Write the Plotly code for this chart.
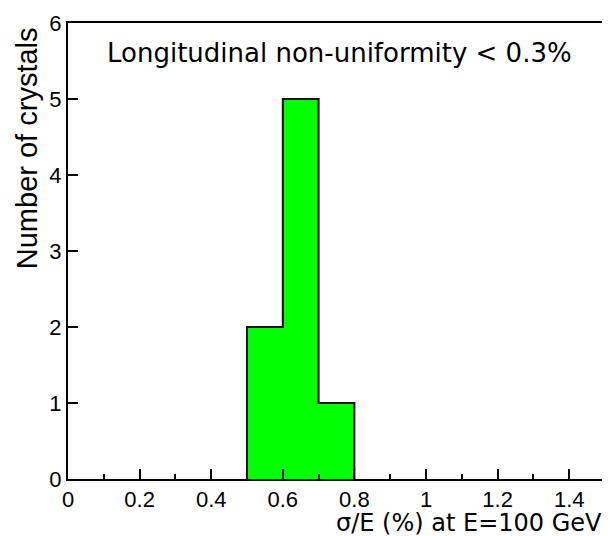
"""
Histogram of energy resolution for crystals, ROOT-like style.
"""

import plotly.graph_objects as go

# histogram data
bin_edges = [0.5, 0.6, 0.7, 0.8]
counts = [2, 5, 1]

title_text = 'Longitudinal non-uniformity < 0.3%'
x_title = 'σ/E (%) at E=100 GeV'
y_title = 'Number of crystals'


def step_outline(edges, values):
    # closed outline of the histogram (outer edge only, like ROOT)
    xs, ys = [edges[0]], [0]
    for i, v in enumerate(values):
        xs += [edges[i], edges[i + 1]]
        ys += [v, v]
    xs.append(edges[-1])
    ys.append(0)
    return xs, ys


hx, hy = step_outline(bin_edges, counts)

fig = go.Figure()
fig.add_trace(go.Scatter(x=hx, y=hy, mode='lines', fill='toself',
                         fillcolor='#00ff00',
                         line=dict(color='#111111', width=2),
                         hoverinfo='skip', showlegend=False))

tick_font = dict(family='Liberation Sans, Arial, sans-serif', size=22, color='black')

fig.update_xaxes(range=[0, 1.5], dtick=0.2, tick0=0,
                 ticks='inside', ticklen=10, tickwidth=2, tickcolor='black',
                 minor=dict(dtick=0.1, ticks='inside', ticklen=5, tickwidth=2, tickcolor='black'),
                 showline=True, linewidth=2, linecolor='black', mirror=True,
                 showgrid=False, zeroline=False, tickfont=tick_font,
                 ticklabeloverflow='allow')
fig.update_yaxes(range=[0, 6], dtick=1, tick0=0,
                 ticks='inside', ticklen=10, tickwidth=2, tickcolor='black',
                 showline=True, linewidth=2, linecolor='black', mirror=True,
                 showgrid=False, zeroline=False, tickfont=tick_font,
                 ticklabeloverflow='allow')

fig.add_annotation(text=title_text, xref='paper', yref='paper',
                   x=0.505, y=0.935, xanchor='center', yanchor='middle',
                   showarrow=False,
                   font=dict(family='DejaVu Sans', size=26, color='black'))
fig.add_annotation(text=x_title, xref='paper', yref='paper',
                   x=0.999, y=-0.061, xanchor='right', yanchor='top',
                   showarrow=False,
                   font=dict(family='DejaVu Sans', size=24, color='black'))
fig.add_annotation(text=y_title, xref='paper', yref='paper',
                   x=-0.11, y=0.995, xanchor='left', yanchor='top',
                   textangle=-90, showarrow=False,
                   font=dict(family='Liberation Sans, Arial, sans-serif', size=29, color='black'))

# page body has an 8px margin, so the figure is a bit smaller than the window
fig.update_layout(width=602, height=528,
                  margin=dict(l=60, r=3, t=10, b=57),
                  paper_bgcolor='white', plot_bgcolor='white')

fig.write_html('out.html')
